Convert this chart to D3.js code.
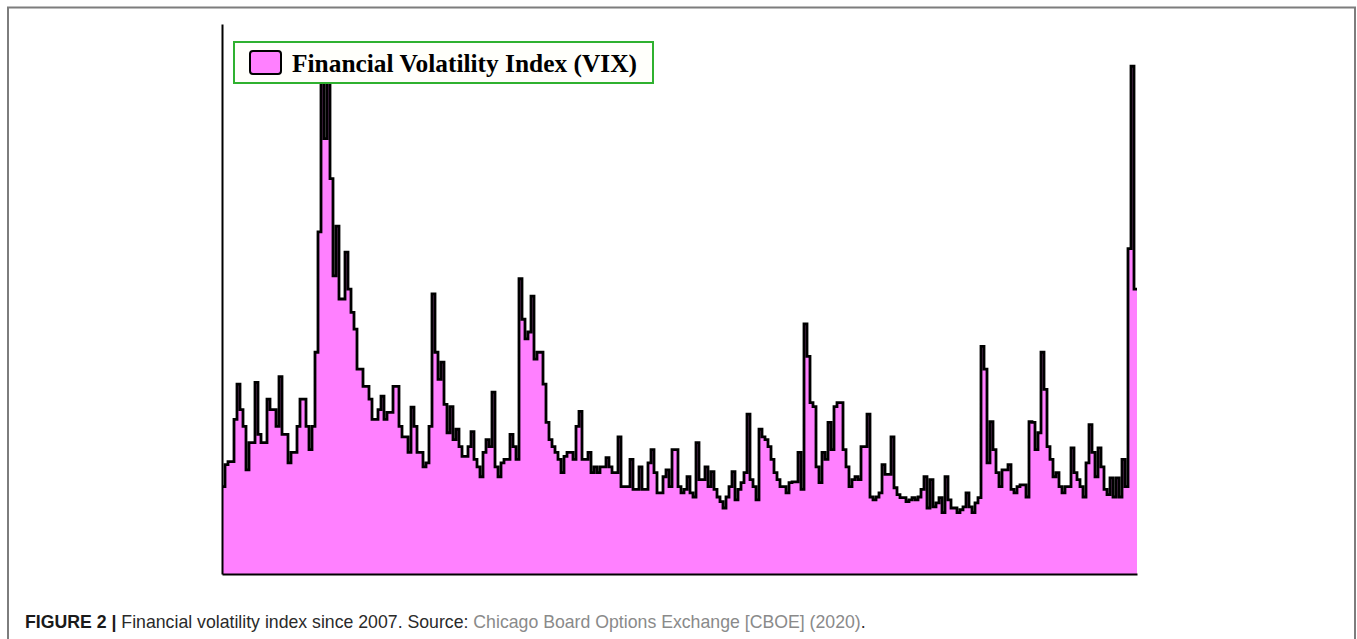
<!DOCTYPE html>
<html lang="en">
<head>
    <title>Financial Volatility Index (VIX)</title>
    <meta charset="UTF-8">
    <script src='https://d3js.org/d3.v7.min.js'></script>
    <style>
      body { margin: 0; background: #fff; }
    </style>
</head>

<body>
    <div id="viz">
      <svg style="width:1357px;height:639px;"></svg>
    </div>

    <script>
      // VIX level, roughly every two weeks, May 2007 .. Apr 2020
      let vix = [
        15.1, 18.9, 19.4, 19.4, 26.7, 32.8, 28.4, 25.5, 18.0, 22.7,
        22.7, 33.1, 24.1, 22.7, 22.7, 30.2, 28.4, 28.4, 25.5, 34.1,
        24.1, 24.1, 19.2, 21.0, 21.0, 25.5, 30.2, 30.2, 25.5, 21.5,
        25.5, 38.3, 59.1, 86.5, 75.2, 86.5, 68.3, 51.5, 60.1, 47.5,
        47.5, 55.6, 49.2, 45.2, 42.3, 35.4, 35.4, 32.4, 32.4, 30.2,
        26.7, 26.7, 28.4, 30.7, 26.7, 27.9, 27.9, 32.4, 32.4, 25.5,
        23.7, 23.7, 21.0, 28.8, 25.5, 21.0, 21.0, 18.5, 19.2, 25.5,
        48.4, 38.3, 33.6, 36.6, 29.3, 24.4, 28.9, 23.2, 25.0, 22.0,
        20.3, 20.3, 22.0, 24.6, 19.8, 18.5, 16.8, 21.0, 23.2, 22.0,
        31.4, 18.5, 16.8, 19.2, 19.8, 19.8, 24.1, 22.0, 19.8, 51.0,
        44.0, 40.6, 41.8, 48.0, 37.1, 38.3, 38.3, 32.8, 26.2, 23.2,
        22.0, 21.0, 19.8, 17.5, 20.3, 21.0, 21.0, 19.8, 25.5, 28.1,
        19.8, 19.8, 21.0, 17.5, 18.5, 17.5, 18.5, 18.5, 20.1, 18.5,
        17.5, 17.5, 23.7, 15.1, 15.1, 15.1, 19.8, 14.6, 14.6, 18.5,
        14.6, 14.6, 19.2, 21.5, 17.5, 14.0, 14.0, 16.8, 18.0, 15.1,
        21.5, 21.5, 15.1, 14.0, 14.6, 16.8, 14.0, 13.3, 22.7, 16.3,
        16.3, 18.5, 15.1, 17.7, 14.6, 13.3, 12.5, 11.4, 13.3, 15.1,
        17.7, 12.8, 14.6, 15.8, 17.5, 27.6, 16.3, 15.1, 12.8, 25.0,
        23.7, 23.2, 22.0, 19.8, 17.5, 16.3, 15.1, 15.1, 14.0, 15.8,
        15.9, 15.9, 21.0, 14.6, 43.2, 37.6, 29.6, 28.9, 18.5, 15.8,
        21.0, 19.8, 26.2, 21.5, 28.9, 29.6, 29.6, 21.5, 18.5, 15.1,
        16.3, 16.8, 16.3, 22.0, 22.0, 27.6, 13.3, 12.8, 13.3, 14.0,
        18.9, 17.2, 17.2, 23.7, 14.9, 13.7, 13.2, 13.2, 12.5, 12.8,
        13.2, 12.8, 13.3, 14.6, 16.8, 11.4, 16.3, 11.6, 12.3, 13.2,
        10.6, 16.8, 12.8, 11.4, 11.4, 10.6, 11.1, 11.6, 14.0, 11.6,
        10.6, 12.3, 13.2, 39.3, 35.4, 19.2, 26.3, 21.5, 17.5, 15.1,
        18.0, 18.0, 18.9, 14.6, 14.0, 15.1, 15.4, 15.4, 13.3, 26.3,
        26.2, 21.5, 24.4, 38.3, 31.9, 22.0, 19.8, 16.8, 17.5, 15.1,
        14.0, 15.1, 15.1, 21.8, 17.5, 16.3, 15.1, 13.3, 19.2, 25.8,
        21.0, 16.8, 21.8, 18.5, 14.6, 13.7, 16.6, 13.3, 16.6, 13.3,
        19.8, 15.1, 56.2, 87.7, 49.2
      ]
      let legendLabel = "Financial Volatility Index (VIX)"
      let captionBold = "FIGURE 2 | "
      let captionText = "Financial volatility index since 2007. Source: "
      let captionSource = "Chicago Board Options Exchange [CBOE] (2020)"

      let svg = d3.select("svg")

      // figure frame (the journal box round the picture)
      svg.append("rect")
        .attr("x", 8).attr("y", 7.5)
        .attr("width", 1347).attr("height", 700)
        .attr("fill", "none").attr("stroke", "#7d7d7d").attr("stroke-width", 2)

      // scales - the index of the sample along x, the index level along y
      let xScale = d3.scaleLinear().domain([0, vix.length]).range([222, 1137])
      let yScale = d3.scaleLinear().domain([0, 95]).range([574, 24])

      // repeat the last value so the last step runs up to the right edge
      let pts = vix.map((v, i) => [i, v]).concat([[vix.length, vix[vix.length - 1]]])

      let area = d3.area().curve(d3.curveStepAfter)
        .x(d => xScale(d[0]))
        .y0(yScale(0))
        .y1(d => yScale(d[1]))
      let line = d3.line().curve(d3.curveStepAfter)
        .x(d => xScale(d[0]))
        .y(d => yScale(d[1]))

      svg.append("path").datum(pts)
        .attr("d", area)
        .attr("fill", "#ff80ff")
      svg.append("path").datum(pts)
        .attr("d", line)
        .attr("fill", "none").attr("stroke", "#000").attr("stroke-width", 2.8)

      // bare axes, no ticks or labels
      let xAxis = d3.axisBottom().scale(xScale).ticks(0).tickSizeOuter(0)
      let yAxis = d3.axisLeft().scale(yScale).ticks(0).tickSizeOuter(0)
      svg.append("g").attr("id", "xAxisG").attr("transform", "translate(0,574)").call(xAxis)
      svg.append("g").attr("id", "yAxisG").attr("transform", "translate(222,0)").call(yAxis)
      svg.selectAll(".domain").attr("stroke", "#000").attr("stroke-width", 2)

      // legend box drawn over the 2008 peak
      let legend = svg.append("g")
      legend.append("rect")
        .attr("x", 234).attr("y", 42).attr("width", 419).attr("height", 41)
        .attr("fill", "#fffffb").attr("stroke", "#2fb12f").attr("stroke-width", 2)
      legend.append("rect")
        .attr("x", 250).attr("y", 51).attr("width", 31).attr("height", 23).attr("rx", 3)
        .attr("fill", "#ff80ff").attr("stroke", "#000").attr("stroke-width", 2)
      legend.append("text")
        .attr("x", 292).attr("y", 72)
        .attr("textLength", 345).attr("lengthAdjust", "spacingAndGlyphs")
        .style("font-family", "'Liberation Serif', 'DejaVu Serif', serif")
        .style("font-weight", "bold").style("font-size", "25px")
        .text(legendLabel)

      // caption under the figure
      let cap = svg.append("text")
        .attr("x", 25).attr("y", 628)
        .style("font-family", "'Liberation Sans', Arial, sans-serif")
        .style("font-size", "17.7px")
      cap.append("tspan").attr("font-weight", "bold").attr("fill", "#1a1a1a").text(captionBold)
      cap.append("tspan").attr("fill", "#2a2a2a").text(captionText)
      cap.append("tspan").attr("fill", "#8a8a8a").text(captionSource)
      cap.append("tspan").attr("fill", "#2a2a2a").text(".")
    </script>
</body>
</html>
